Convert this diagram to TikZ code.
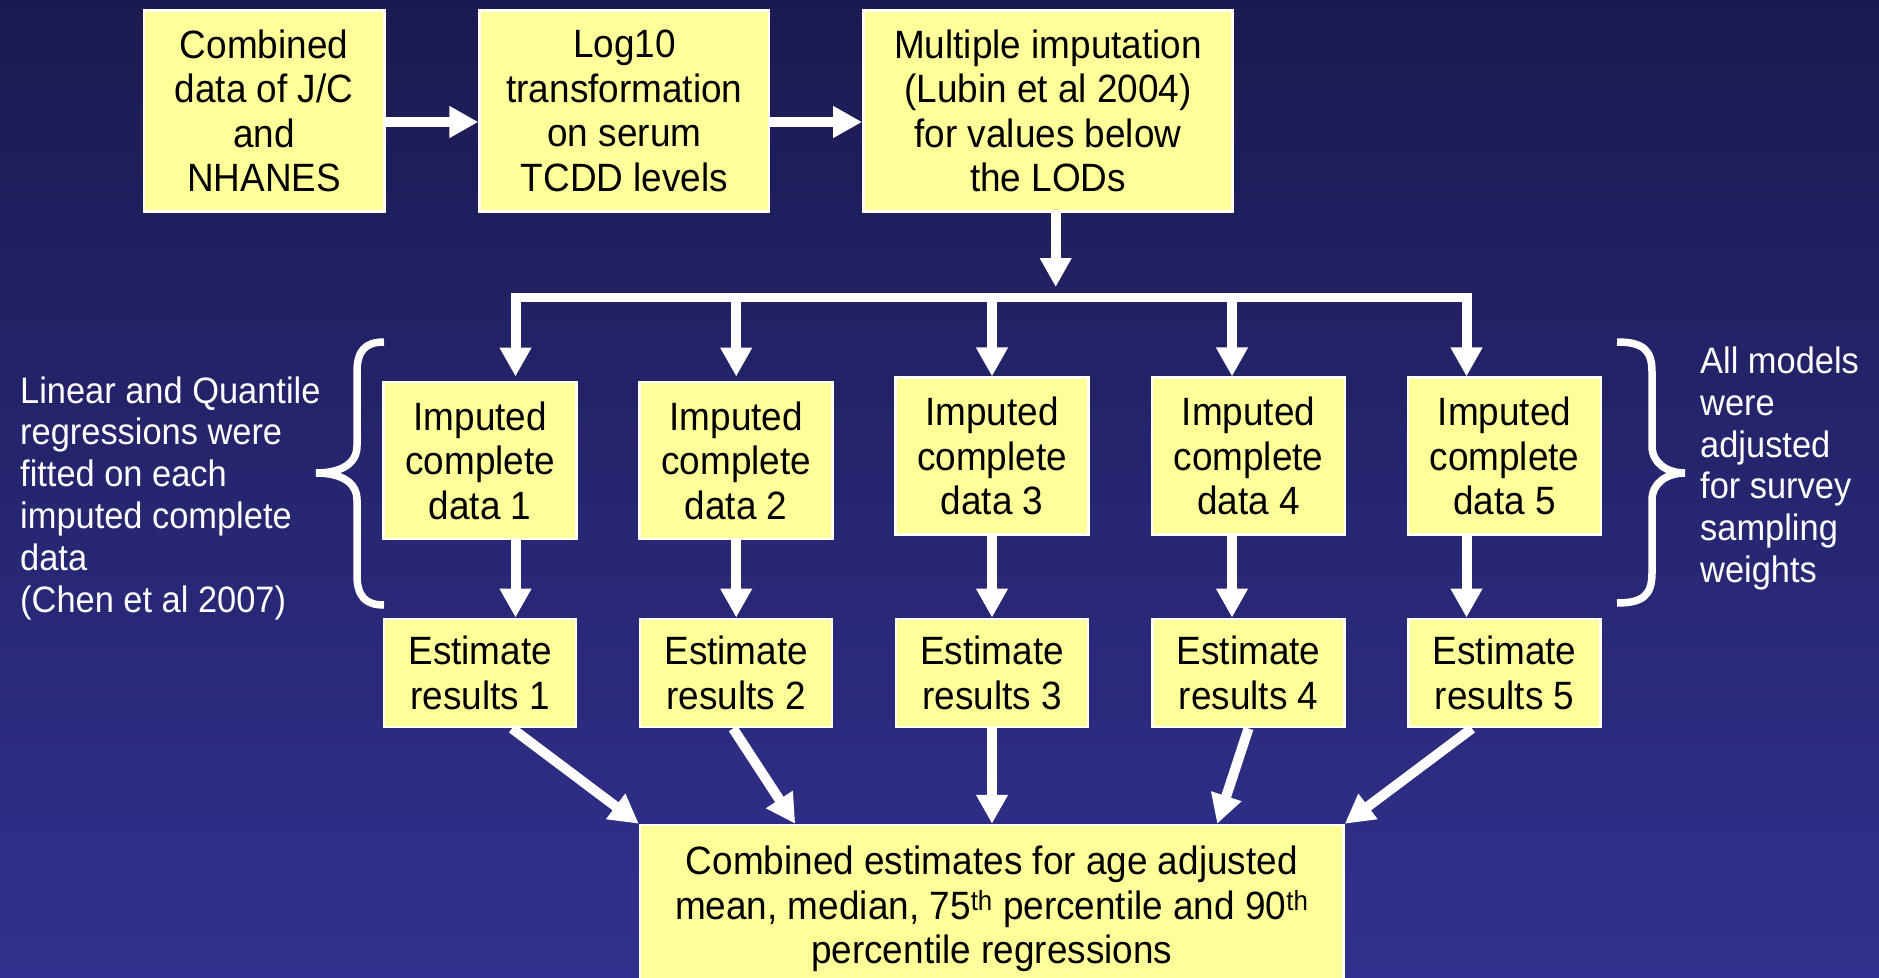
\documentclass[tikz,border=0pt]{standalone}
\usepackage{fontspec}
\setmainfont{Liberation Sans}[FakeStretch=0.935]
\usetikzlibrary{arrows.meta}
\definecolor{bgtop}{RGB}{27,26,80}
\definecolor{bgbot}{RGB}{49,49,143}
\definecolor{boxfill}{RGB}{255,255,153}
\tikzset{
  ybox/.style={draw=white, line width=2.5pt, fill=boxfill, inner sep=0pt, align=center, text=black, font=\fontsize{39.5}{44.5}\selectfont},
  arr/.style={draw=white, line width=10pt, -{Triangle[width=30pt,length=29pt]}},
  side/.style={text=white, inner sep=0pt, align=left, font=\fontsize{36.8}{41.8}\selectfont},
  brace/.style={draw=white, line width=7.5pt},
}
\begin{document}
\begin{tikzpicture}[x=1pt,y=-1pt]
\useasboundingbox (0,0) rectangle (1879,977);
\clip (0,0) rectangle (1879,977);
\shade[top color=bgtop, bottom color=bgbot] (0,0) rectangle (1879,977);

% top row
\node[ybox, minimum width=240.4pt, minimum height=201.4pt] (b1) at (264.1,111) {Combined\\data of J/C\\and\\NHANES};
\node[ybox, minimum width=289.6pt, minimum height=201.4pt] (b2) at (624.4,111) {Log10\\transformation\\on serum\\TCDD levels};
\node[ybox, minimum width=369.3pt, minimum height=201.4pt] (b3) at (1048,111) {Multiple imputation\\(Lubin et al 2004)\\for values below\\the LODs};

% imputed boxes
\node[ybox, minimum width=193pt, minimum height=156.6pt] (i1) at (480.2,460.5) {Imputed\\complete\\data 1};
\node[ybox, minimum width=193pt, minimum height=156.6pt] (i2) at (736.2,460.5) {Imputed\\complete\\data 2};
\node[ybox, minimum width=193pt, minimum height=156.6pt] (i3) at (992,456) {Imputed\\complete\\data 3};
\node[ybox, minimum width=193pt, minimum height=156.6pt] (i4) at (1248.5,456) {Imputed\\complete\\data 4};
\node[ybox, minimum width=193pt, minimum height=156.6pt] (i5) at (1504.5,456) {Imputed\\complete\\data 5};

% estimate boxes
\node[ybox, minimum width=192pt, minimum height=108.4pt] (e1) at (480.2,673) {Estimate\\results 1};
\node[ybox, minimum width=192pt, minimum height=108.4pt] (e2) at (736.2,673) {Estimate\\results 2};
\node[ybox, minimum width=192pt, minimum height=108.4pt] (e3) at (992,673) {Estimate\\results 3};
\node[ybox, minimum width=192pt, minimum height=108.4pt] (e4) at (1248.5,673) {Estimate\\results 4};
\node[ybox, minimum width=192pt, minimum height=108.4pt] (e5) at (1504.5,673) {Estimate\\results 5};

% combined box
\node[ybox, minimum width=703.5pt, minimum height=168pt] (comb) at (991.8,909) {Combined estimates for age adjusted\\mean, median, 75\textsuperscript{th} percentile and 90\textsuperscript{th}\\percentile regressions};

% top arrows
\draw[arr] ([yshift=-11pt]b1.east) -- ([yshift=-11pt]b2.west);
\draw[arr] ([yshift=-11pt]b2.east) -- ([yshift=-11pt]b3.west);
\coordinate (split) at (1055.7,287);
\draw[arr] (b3.south -| split) -- (split);

% distribution line
\coordinate (hl) at (511,297);
\coordinate (hr) at (1472,297);
\draw[white, line width=9pt] (hl) -- (hr);

\foreach \n/\x in {1/515.5,2/736.2,3/992,4/1232,5/1466.5} {
  \coordinate (c\n) at (\x,297);
}
\draw[arr, shorten >=4.4pt] (c1) -- (c1 |- i1.north);
\draw[arr, shorten >=4.4pt] (c2) -- (c2 |- i2.north);
\draw[arr] (c3) -- (c3 |- i3.north);
\draw[arr] (c4) -- (c4 |- i4.north);
\draw[arr] (c5) -- (c5 |- i5.north);

\draw[arr] (c1 |- i1.south) -- (c1 |- e1.north);
\draw[arr] (c2 |- i2.south) -- (c2 |- e2.north);
\draw[arr] (c3 |- i3.south) -- (c3 |- e3.north);
\draw[arr] (c4 |- i4.south) -- (c4 |- e4.north);
\draw[arr] (c5 |- i5.south) -- (c5 |- e5.north);

% converging arrows
\draw[arr] ([xshift=31.8pt]e1.south) -- (comb.north west);
\draw[arr] ([xshift=-3.2pt]e2.south) -- ([xshift=156.4pt]comb.north west);
\draw[arr] (e3.south) -- (e3.south |- comb.north);
\draw[arr] (e4.south) -- ([xshift=-127.6pt]comb.north east);
\draw[arr] ([xshift=-32.6pt]e5.south) -- (comb.north east);

% braces
\draw[brace] (384,342) .. controls (366,342) and (357,350) .. (357,372) -- (357,446) .. controls (357,463) and (342,473) .. (316,473) .. controls (342,473) and (357,483) .. (357,500) -- (357,575) .. controls (357,597) and (366,605) .. (384,605);
\draw[brace] (1617,342) .. controls (1643,342) and (1652,350) .. (1652,372) -- (1652,446) .. controls (1652,463) and (1667,473) .. (1685,473) .. controls (1667,473) and (1652,483) .. (1652,500) -- (1652,573) .. controls (1652,595) and (1643,603) .. (1617,603);

% side texts
\node[side, anchor=west] (lt) at (20,498) {Linear and Quantile\\regressions were\\fitted on each\\imputed complete\\data\\(Chen et al 2007)};
\node[side, anchor=west] (rt) at (1700,468.5) {All models\\were\\adjusted\\for survey\\sampling\\weights};
\end{tikzpicture}
\end{document}
